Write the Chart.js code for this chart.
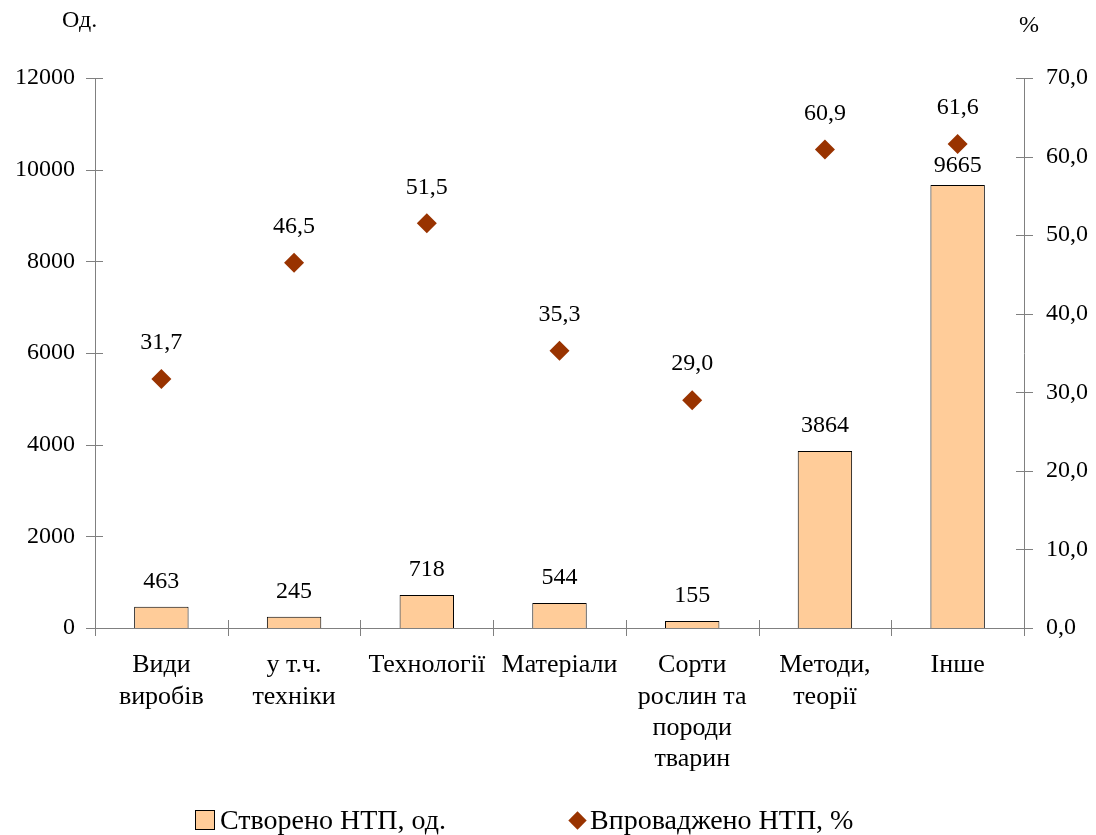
<!DOCTYPE html>
<html>
<head>
  <meta charset="utf-8">
  <title>НТП</title>
  <style>
    body {
      margin: 0;
      background: white;
      font-family: "Liberation Serif", "Times New Roman", serif;
    }
    .wrap {
      position: relative;
      width: 1096px;
      height: 835px;
    }
    .unit {
      position: absolute;
      font-size: 24px;
      color: #000;
    }
    .legend {
      position: absolute;
      top: 804px;
      font-size: 28px;
      line-height: 32px;
      color: #000;
      display: flex;
      align-items: center;
    }
    .sq {
      display: inline-block;
      width: 18px;
      height: 18px;
      background: #FFCC99;
      border: 1px solid #000;
      margin-right: 5px;
    }
    .dm {
      display: inline-block;
      width: 13px;
      height: 13px;
      background: #993300;
      transform: rotate(45deg);
      margin: 0 6px 0 3px;
    }
  </style>
</head>
<body>
  <div class="wrap">
    <canvas id="chart" width="1096" height="835"></canvas>
    <div class="unit" style="left:62px; top:6px;">Од.</div>
    <div class="unit" style="left:1019px; top:11px;">%</div>
    <div class="legend" style="left:195px;"><span class="sq"></span>Створено НТП, од.</div>
    <div class="legend" style="left:568px;"><span class="dm"></span>Впроваджено НТП, %</div>
  </div>

  <script src="https://cdn.jsdelivr.net/npm/chart.js"></script>
  <script>
    // Дані
    const categories = [
      ['Види', 'виробів'],
      ['у т.ч.', 'техніки'],
      'Технології',
      'Матеріали',
      ['Сорти', 'рослин та', 'породи', 'тварин'],
      ['Методи,', 'теорії'],
      'Інше'
    ];
    const created = [463, 245, 718, 544, 155, 3864, 9665];
    const implemented = [31.7, 46.5, 51.5, 35.3, 29.0, 60.9, 61.6];

    const fontFamily = '"Liberation Serif", "Times New Roman", serif';
    const fontMain = { family: fontFamily, size: 24 };
    const axisColor = '#808080';

    function fmt(v) {
      return v.toFixed(1).replace('.', ',');
    }

    // Хрестоподібні поділки на осях
    const crossTicks = {
      id: 'crossTicks',
      afterDraw(chart) {
        const ctx = chart.ctx;
        const x = chart.scales.x, y = chart.scales.y, y1 = chart.scales.y1;
        ctx.save();
        ctx.strokeStyle = axisColor;
        ctx.lineWidth = 1;
        ctx.beginPath();
        y.ticks.forEach(t => {
          const py = Math.round(y.getPixelForValue(t.value)) + 0.5;
          ctx.moveTo(y.right - 9, py);
          ctx.lineTo(y.right + 8, py);
        });
        y1.ticks.forEach(t => {
          const py = Math.round(y1.getPixelForValue(t.value)) + 0.5;
          ctx.moveTo(y1.left - 8, py);
          ctx.lineTo(y1.left + 9, py);
        });
        const n = categories.length;
        const half = (x.getPixelForValue(1) - x.getPixelForValue(0)) / 2;
        for (let i = 0; i <= n; i++) {
          const px = Math.round(x.getPixelForValue(i) - half) + 0.5;
          ctx.moveTo(px, x.top - 8);
          ctx.lineTo(px, x.top + 8);
        }
        ctx.stroke();
        ctx.restore();
      }
    };

    // Підписи значень
    const valueLabels = {
      id: 'valueLabels',
      afterDatasetsDraw(chart) {
        const ctx = chart.ctx;
        const bars = chart.getDatasetMeta(0).data;
        const pts = chart.getDatasetMeta(1).data;
        ctx.save();
        ctx.font = '24px ' + fontFamily;
        ctx.fillStyle = '#000';
        ctx.textAlign = 'center';
        ctx.textBaseline = 'middle';
        bars.forEach((b, i) => {
          let ly = b.y - 25;
          const py = pts[i].y;
          if (ly < py + 22 && ly > py - 40) ly = py + 22;
          ctx.fillText(String(created[i]), b.x, ly);
        });
        pts.forEach((p, i) => {
          ctx.fillText(fmt(implemented[i]), p.x, p.y - 36);
        });
        ctx.restore();
      }
    };

    const ctx = document.getElementById('chart').getContext('2d');
    new Chart(ctx, {
      data: {
        labels: categories,
        datasets: [
          {
            type: 'bar',
            label: 'Створено НТП, од.',
            data: created,
            backgroundColor: '#FFCC99',
            borderColor: '#000000',
            borderWidth: 1,
            barPercentage: 0.41,
            categoryPercentage: 1,
            yAxisID: 'y',
            order: 2
          },
          {
            type: 'line',
            label: 'Впроваджено НТП, %',
            data: implemented,
            showLine: false,
            pointStyle: 'rectRot',
            pointRadius: 10,
            pointHoverRadius: 10,
            pointBackgroundColor: '#993300',
            pointBorderColor: '#993300',
            pointBorderWidth: 0,
            yAxisID: 'y1',
            order: 1
          }
        ]
      },
      options: {
        responsive: false,
        animation: false,
        layout: { padding: { top: 78, bottom: 0, left: 0, right: 0 } },
        plugins: {
          legend: { display: false },
          tooltip: { enabled: false }
        },
        scales: {
          x: {
            offset: true,
            grid: { display: false, drawTicks: false },
            border: { display: true, color: axisColor, width: 1 },
            ticks: { color: '#000', font: { family: fontFamily, size: 26, lineHeight: 1.2 }, padding: 22, maxRotation: 0, autoSkip: false },
            afterFit(scale) { scale.height = 207; }
          },
          y: {
            position: 'left',
            min: 0,
            max: 12000,
            grid: { display: false, drawTicks: false },
            border: { display: true, color: axisColor, width: 1 },
            ticks: { stepSize: 2000, color: '#000', font: fontMain, padding: 20, callback: v => String(v) },
            afterFit(scale) { scale.width = 95; }
          },
          y1: {
            position: 'right',
            min: 0,
            max: 70,
            grid: { display: false, drawTicks: false },
            border: { display: true, color: axisColor, width: 1 },
            ticks: { stepSize: 10, color: '#000', font: fontMain, padding: 22, callback: v => fmt(v) },
            afterFit(scale) { scale.width = 72; }
          }
        }
      },
      plugins: [crossTicks, valueLabels]
    });
  </script>
</body>
</html>
